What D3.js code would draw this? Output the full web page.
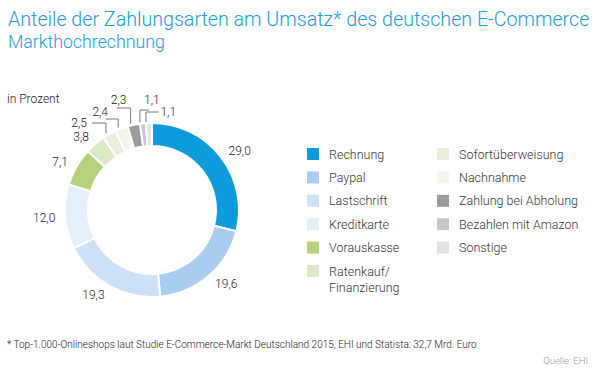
<!DOCTYPE html>
<html>
<head>
<meta charset="utf-8">
<script src="https://cdn.jsdelivr.net/npm/d3@7"></script>
<style>
  body { margin: 0; background: #fff; }
  text { font-family: Roboto, "Liberation Sans", sans-serif; }
</style>
</head>
<body>
<div id="chart"></div>
<script>
// data
var categories = ["Rechnung", "Paypal", "Lastschrift", "Kreditkarte", "Vorauskasse",
    "Ratenkauf/\nFinanzierung", "Sofortüberweisung", "Nachnahme", "Zahlung bei Abholung",
    "Bezahlen mit Amazon", "Sonstige"];
var values = [29.0, 19.6, 19.3, 12.0, 7.1, 3.8, 2.5, 2.4, 2.3, 1.1, 1.1];
var colors = ["#0e9bdb", "#a8cdf1", "#cde1f6", "#e5effa", "#b6d17b", "#dbe8c4",
    "#e7efdb", "#f2f5ea", "#9b9b9b", "#c6c6c6", "#e2e2e2"];

// callout layout for the small slices (index -> elbow y, horizontal run, label offset)
var callouts = {
    6: { elbow: 123, run: -14, lx: -5, ly: 4, anchor: "end" },
    7: { elbow: 119, run: -12.5, lx: -5.5, ly: -3, anchor: "middle" },
    8: { elbow: 108, run: -14, lx: 2, ly: -4, anchor: "middle" },
    9: { elbow: 110, run: 9, lx: 3, ly: -6, anchor: "middle" },
    10: { elbow: 112, run: 12.5, lx: 2, ly: 4, anchor: "start" }
};
var leaderShift = -3;

var width = 600, height = 376;
var cx = 152, cy = 210, outerR = 87, innerR = 64;

var svg = d3.select("#chart").append("svg")
    .attr("width", width)
    .attr("height", height);

function fmt(v) { return v.toFixed(1).replace(".", ","); }

// fit text to a width by adjusting the font size
function fitText(sel, w) {
    var size = parseFloat(sel.style("font-size"));
    var len = sel.node().getComputedTextLength();
    sel.style("font-size", (size * w / len) + "px");
}

// titles
var title = svg.append("text")
    .attr("x", 8).attr("y", 26)
    .style("font-size", "19px").style("font-weight", 300)
    .style("fill", "#1a9edb")
    .text("Anteile der Zahlungsarten am Umsatz* des deutschen E-Commerce");
fitText(title, 582);

var sub = svg.append("text")
    .attr("x", 8).attr("y", 48)
    .style("font-size", "19px").style("font-weight", 300)
    .style("fill", "#1a9edb")
    .text("Markthochrechnung");
fitText(sub, 157);

svg.append("text")
    .attr("x", 7).attr("y", 103)
    .style("font-size", "12px").style("font-weight", 300).style("fill", "#222")
    .text("in Prozent");

// donut
var pie = d3.pie().sort(null).value(d => d);
var arcs = pie(values);
var arc = d3.arc().innerRadius(innerR).outerRadius(outerR);

var g = svg.append("g").attr("transform", `translate(${cx},${cy})`);

g.selectAll("path")
    .data(arcs)
    .enter().append("path")
    .attr("d", arc)
    .attr("fill", (d, i) => colors[i])
    .attr("stroke", "#fff")
    .attr("stroke-width", 2);

// labels
var labelR = 97;
arcs.forEach(function(d, i) {
    var a = (d.startAngle + d.endAngle) / 2;
    if (callouts[i]) {
        var c = callouts[i];
        var x0 = Math.sin(a) * (outerR + 1) + leaderShift;
        var y0 = -Math.cos(a) * (outerR + 1);
        var ey = c.elbow - cy;
        var ex = x0 + c.run;
        g.append("polyline")
            .attr("points", [[x0, y0], [x0, ey], [ex, ey]].map(p => p.join(",")).join(" "))
            .attr("fill", "none")
            .attr("stroke", "#777")
            .attr("stroke-width", 1);
        g.append("text")
            .attr("x", ex + c.lx)
            .attr("y", ey + c.ly)
            .attr("text-anchor", c.anchor)
            .style("font-size", "12px").style("font-weight", 300).style("fill", "#222")
            .text(fmt(values[i]));
    } else {
        var x = Math.sin(a) * labelR, y = -Math.cos(a) * labelR;
        g.append("text")
            .attr("x", x)
            .attr("y", y)
            .attr("dy", "0.35em")
            .attr("text-anchor", x >= 0 ? "start" : "end")
            .style("font-size", "12px").style("font-weight", 300).style("fill", "#222")
            .text(fmt(values[i]));
    }
});

// legend
var legend = svg.append("g").attr("class", "legend");
var rowH = 23.4;
var items = legend.selectAll("g")
    .data(categories)
    .enter().append("g")
    .attr("transform", (d, i) => {
        var col = i < 6 ? 0 : 1, row = i < 6 ? i : i - 6;
        return `translate(${col ? 437 : 307},${148 + row * rowH})`;
    });

items.append("rect")
    .attr("width", 12).attr("height", 12)
    .attr("fill", (d, i) => colors[i]);

items.append("text")
    .attr("x", 22)
    .attr("y", 10.5)
    .style("font-size", "12.5px").style("font-weight", 300).style("fill", "#333")
    .each(function(d) {
        var lines = d.split("\n");
        var t = d3.select(this);
        lines.forEach((l, k) => {
            t.append("tspan").attr("x", 22).attr("dy", k ? 16 : 0).text(l);
        });
    });

// footnote and source
var foot = svg.append("text")
    .attr("x", 7).attr("y", 348)
    .style("font-size", "9.5px").style("font-weight", 300).style("fill", "#222")
    .text("* Top-1.000-Onlineshops laut Studie E-Commerce-Markt Deutschland 2015, EHI und Statista: 32,7 Mrd. Euro");
fitText(foot, 470);

svg.append("text")
    .attr("x", 588).attr("y", 364)
    .attr("text-anchor", "end")
    .style("font-size", "9.5px").style("font-weight", 300).style("fill", "#999")
    .text("Quelle: EHI");
</script>
</body>
</html>
